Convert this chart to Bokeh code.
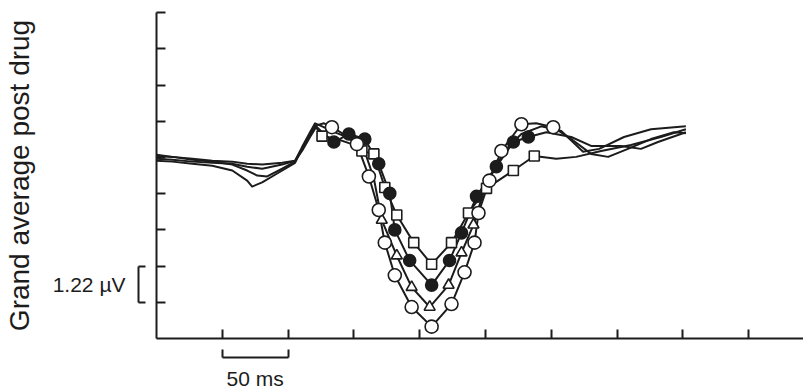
from bokeh.plotting import figure
from bokeh.models import Range1d, LinearAxis, FixedTicker
from bokeh.embed import file_html
from bokeh.resources import INLINE

# ---------------- data (time in ms, amplitude in µV above the time axis) ----------------
# series drawn with open circles (largest trough)
time_open_circle = [0, 12.1, 27.3, 42.4, 57.6, 68.9, 76.5, 84.1, 95.5, 105.3, 110.6, 116.7, 122.0, 127.3,
                    133.3, 140.9, 152.3, 161.4, 168.9, 173.5, 181.1, 193.9, 209.1, 224.2, 234.1, 241.7,
                    244.7, 253.0, 262.1, 277.3, 288.6, 301.5, 315.2, 330.3, 343.2, 358.3, 375.8, 393.2, 402.3]
volt_open_circle = [6.19, 6.12, 6.02, 5.96, 5.86, 5.66, 5.49, 5.46, 5.72, 5.96, 6.39, 6.89, 7.19, 7.25,
                    7.12, 6.92, 6.55, 5.46, 4.33, 3.23, 2.13, 1.06, 0.40, 1.16, 2.23, 3.23,
                    4.23, 5.32, 6.32, 7.22, 7.25, 7.12, 6.72, 6.22, 6.12, 6.39, 6.72, 6.95, 6.92]
mark_open_circle = [0, 0, 0, 0, 0, 0, 0, 0, 0, 0, 0, 0, 0, 0,
                    1, 0, 1, 1, 1, 1, 1, 1, 1, 1, 1, 1,
                    1, 1, 1, 1, 0, 1, 0, 0, 0, 0, 0, 0, 0]

# series drawn with open triangles
time_triangle = [0, 12.1, 27.3, 42.4, 57.6, 68.9, 80.3, 95.5, 105.3, 110.6, 116.7, 120.5, 125.8, 137.1,
                 148.5, 157.6, 165.2, 171.2, 182.6, 193.9, 207.6, 222.0, 231.8, 240.9, 247.0, 254.5,
                 265.9, 277.3, 292.4, 307.6, 324.2, 336.4, 355.3, 375.8, 402.3]
volt_triangle = [6.06, 6.02, 5.96, 5.92, 5.89, 5.79, 5.72, 5.86, 5.99, 6.45, 6.95, 7.25, 7.15, 6.92,
                 6.72, 6.39, 5.39, 3.99, 2.79, 1.73, 1.06, 1.80, 2.89, 3.83, 4.72, 5.56,
                 6.39, 6.89, 7.15, 6.99, 6.29, 6.39, 6.79, 7.05, 7.15]
mark_triangle = [0, 0, 0, 0, 0, 0, 0, 0, 0, 0, 0, 0, 0, 0,
                 0, 0, 0, 1, 1, 1, 1, 1, 1, 1, 0, 0,
                 0, 0, 0, 0, 0, 0, 0, 0, 0]

# series drawn with filled circles
time_filled_circle = [0, 12.1, 27.3, 42.4, 57.6, 68.9, 72.7, 80.3, 91.7, 105.3, 110.6, 116.7, 120.5, 125.8,
                      134.8, 146.2, 158.3, 168.9, 177.3, 181.1, 192.4, 209.1, 222.7, 231.8, 243.2, 258.3,
                      271.2, 282.6, 296.2, 315.2, 330.3, 353.0, 368.2, 381.1, 402.3]
volt_filled_circle = [5.99, 5.96, 5.89, 5.82, 5.66, 5.32, 5.12, 5.26, 5.56, 5.92, 6.39, 6.85, 7.19, 6.95,
                      6.62, 6.89, 6.72, 5.89, 4.89, 3.66, 2.63, 1.80, 2.63, 3.56, 4.79, 5.79,
                      6.62, 6.79, 6.95, 6.79, 6.49, 6.49, 6.39, 6.62, 6.95]
mark_filled_circle = [0, 0, 0, 0, 0, 0, 0, 0, 0, 0, 0, 0, 0, 0,
                      1, 1, 1, 1, 1, 1, 1, 1, 1, 1, 1, 1,
                      1, 1, 0, 0, 0, 0, 0, 0, 0]

# series drawn with open squares (smallest trough)
time_square = [0, 12.1, 27.3, 42.4, 57.6, 68.9, 80.3, 95.5, 105.3, 110.6, 116.7, 121.2, 125.8, 137.1,
               148.5, 156.1, 165.2, 173.5, 182.6, 195.5, 209.1, 224.2, 237.1, 250.8, 271.2, 287.1,
               303.8, 318.9, 337.9, 360.6, 383.3, 402.3]
volt_square = [6.15, 6.12, 6.06, 5.99, 5.96, 5.89, 5.86, 5.92, 5.99, 6.32, 6.79, 7.12, 6.82, 6.72,
               6.55, 6.32, 6.22, 5.09, 4.16, 3.23, 2.50, 3.23, 4.23, 5.06, 5.66, 6.15,
               6.06, 6.12, 6.32, 6.52, 6.79, 7.05]
mark_square = [0, 0, 0, 0, 0, 0, 0, 0, 0, 0, 0, 0, 1, 0,
               0, 1, 1, 1, 1, 1, 1, 1, 1, 1, 1, 1,
               0, 0, 0, 0, 0, 0]

scale_uv = 1.22          # one vertical tick interval
scale_ms = 50            # one horizontal tick interval
y_tick_values = [round(scale_uv * k, 2) for k in range(1, 10)]
x_tick_values = [scale_ms * k for k in range(1, 10)]
y_label = "Grand average post drug"
uv_label = "1.22 µV"
ms_label = "50 ms"

# ---------------- figure ----------------
INK = "#1c1c1c"
FONT = "Liberation Sans"

p = figure(width=803, height=392, output_backend="svg", toolbar_location=None,
           x_range=Range1d(0, 491.7), y_range=Range1d(0, 10.985),
           x_axis_type=None, y_axis_type=None,
           min_border_left=154, min_border_right=0, min_border_top=12, min_border_bottom=50)
p.outline_line_color = None
p.background_fill_color = "white"
p.border_fill_color = "white"


def ink_axis(ax):
    ax.axis_line_color = INK
    ax.axis_line_width = 2
    ax.major_tick_line_color = INK
    ax.major_tick_line_width = 2
    ax.minor_tick_line_color = INK
    ax.minor_tick_line_width = 2
    ax.major_label_text_color = INK
    ax.major_label_text_font = FONT
    ax.axis_label_text_color = INK
    ax.axis_label_text_font = FONT
    ax.axis_label_text_font_style = "normal"
    ax.major_tick_out = 0
    ax.minor_tick_out = 0


# main vertical axis (ticks inward, blank labels only to reserve a gap)
y_main = LinearAxis(ticker=FixedTicker(ticks=y_tick_values, minor_ticks=[]))
ink_axis(y_main)
y_main.major_tick_in = 9
y_main.minor_tick_in = 0
y_main.major_label_overrides = {t: " " for t in y_tick_values}
y_main.major_label_text_font_size = "10px"
y_main.major_label_standoff = 12
p.add_layout(y_main, "left")

# vertical calibration bar
y_bar = LinearAxis(ticker=FixedTicker(ticks=[1.5 * scale_uv], minor_ticks=[scale_uv, 2 * scale_uv]),
                   bounds=(scale_uv, 2 * scale_uv))
ink_axis(y_bar)
y_bar.major_tick_in = 0
y_bar.minor_tick_in = 7
y_bar.major_label_overrides = {1.5 * scale_uv: uv_label}
y_bar.major_label_text_font_size = "21px"
y_bar.major_label_standoff = 13
y_bar.axis_label = y_label
y_bar.axis_label_text_font_size = "28px"
y_bar.axis_label_standoff = 15
p.add_layout(y_bar, "left")

# main time axis (ticks inward, blank labels only to reserve a gap)
x_main = LinearAxis(ticker=FixedTicker(ticks=x_tick_values, minor_ticks=[]))
ink_axis(x_main)
x_main.major_tick_in = 9
x_main.minor_tick_in = 0
x_main.major_label_overrides = {t: " " for t in x_tick_values}
x_main.major_label_text_font_size = "10px"
x_main.major_label_standoff = 5
p.add_layout(x_main, "below")

# horizontal calibration bar
x_bar = LinearAxis(ticker=FixedTicker(ticks=[1.5 * scale_ms], minor_ticks=[scale_ms, 2 * scale_ms]),
                   bounds=(scale_ms, 2 * scale_ms))
ink_axis(x_bar)
x_bar.major_tick_in = 0
x_bar.minor_tick_in = 8
x_bar.major_label_overrides = {1.5 * scale_ms: ms_label}
x_bar.major_label_text_font_size = "21px"
x_bar.major_label_standoff = 9
p.add_layout(x_bar, "below")

# ---------------- curves ----------------
series = [
    (time_square, volt_square, mark_square, "square", 10, "white"),
    (time_triangle, volt_triangle, mark_triangle, "triangle", 11, "white"),
    (time_filled_circle, volt_filled_circle, mark_filled_circle, "circle", 12, INK),
    (time_open_circle, volt_open_circle, mark_open_circle, "circle", 13, "white"),
]

for t, v, m, marker, size, fill in series:
    p.line(t, v, line_color=INK, line_width=2, line_join="round")

for t, v, m, marker, size, fill in series:
    mt = [ti for ti, mi in zip(t, m) if mi]
    mv = [vi for vi, mi in zip(v, m) if mi]
    p.scatter(mt, mv, marker=marker, size=size, fill_color=fill, line_color=INK, line_width=1.6)

open("out.html", "w").write(file_html(p, INLINE))
